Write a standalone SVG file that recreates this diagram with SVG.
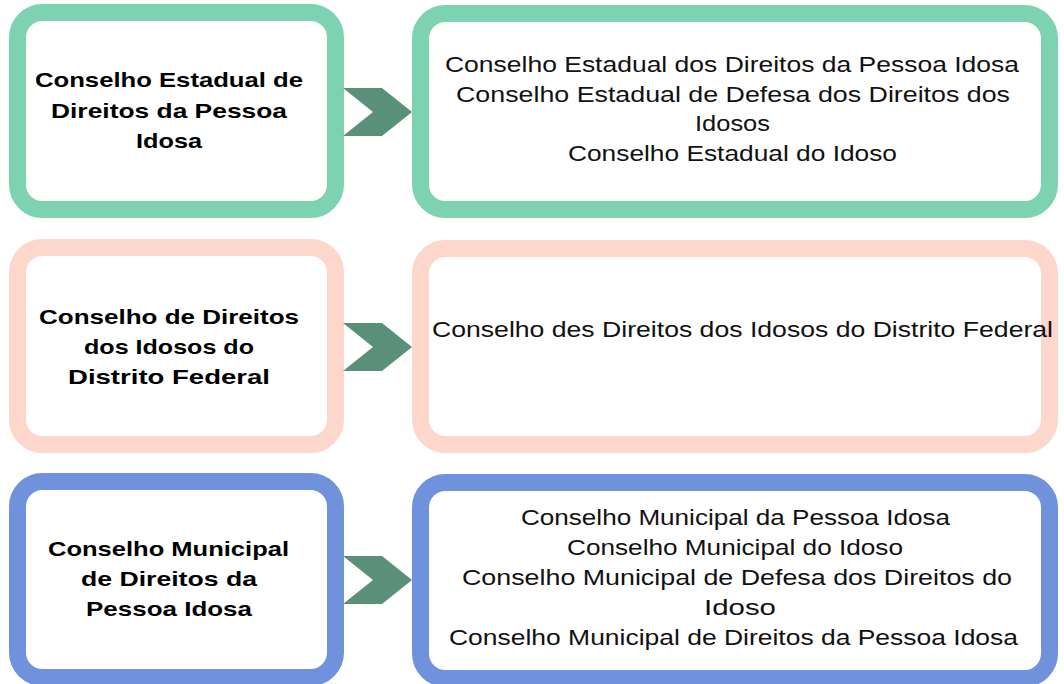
<svg xmlns="http://www.w3.org/2000/svg" width="1064" height="684" viewBox="0 0 1064 684">
<style>
.box{fill:#fff;stroke-width:17}
.g{stroke:#7DD3B1}
.p{stroke:#FDD6CC}
.b{stroke:#7091DC}
.t{font-family:"Liberation Sans",Arial,sans-serif;font-size:21px;font-weight:bold;fill:#000}
.r{font-family:"Liberation Sans",Arial,sans-serif;font-size:21.5px;fill:#111}
.chev{fill:#5A8F7A}
</style>
<rect width="1064" height="684" fill="#fff"/>
<g id="n1">
<rect class="box g" x="17.5" y="12.5" width="318" height="197" rx="25"/>
<text class="t" x="35" y="87" textLength="268" lengthAdjust="spacingAndGlyphs">Conselho Estadual de</text>
<text class="t" x="51" y="118" textLength="236" lengthAdjust="spacingAndGlyphs">Direitos da Pessoa</text>
<text class="t" x="136" y="148" textLength="66" lengthAdjust="spacingAndGlyphs">Idosa</text>
</g>
<g id="n2">
<rect class="box g" x="420.5" y="13.5" width="629" height="196" rx="25"/>
<text class="r" x="445" y="72" textLength="574" lengthAdjust="spacingAndGlyphs">Conselho Estadual dos Direitos da Pessoa Idosa</text>
<text class="r" x="456" y="102" textLength="554" lengthAdjust="spacingAndGlyphs">Conselho Estadual de Defesa dos Direitos dos</text>
<text class="r" x="695" y="131" textLength="75" lengthAdjust="spacingAndGlyphs">Idosos</text>
<text class="r" x="568" y="161" textLength="329" lengthAdjust="spacingAndGlyphs">Conselho Estadual do Idoso</text>
</g>
<g id="n3">
<rect class="box p" x="17.5" y="247.5" width="318" height="197" rx="25"/>
<text class="t" x="39" y="324" textLength="260" lengthAdjust="spacingAndGlyphs">Conselho de Direitos</text>
<text class="t" x="84" y="354" textLength="170" lengthAdjust="spacingAndGlyphs">dos Idosos do</text>
<text class="t" x="68" y="384" textLength="202" lengthAdjust="spacingAndGlyphs">Distrito Federal</text>
</g>
<g id="n4">
<rect class="box p" x="420.5" y="248.5" width="629" height="196" rx="25"/>
<text class="r" x="432" y="337" textLength="621" lengthAdjust="spacingAndGlyphs">Conselho des Direitos dos Idosos do Distrito Federal</text>
</g>
<g id="n5">
<rect class="box b" x="17.5" y="481.5" width="318" height="196" rx="25"/>
<text class="t" x="48" y="556" textLength="241" lengthAdjust="spacingAndGlyphs">Conselho Municipal</text>
<text class="t" x="81" y="586" textLength="176" lengthAdjust="spacingAndGlyphs">de Direitos da</text>
<text class="t" x="86" y="616" textLength="166" lengthAdjust="spacingAndGlyphs">Pessoa Idosa</text>
</g>
<g id="n6">
<rect class="box b" x="420.5" y="482.5" width="629" height="196" rx="25"/>
<text class="r" x="521" y="525" textLength="429" lengthAdjust="spacingAndGlyphs">Conselho Municipal da Pessoa Idosa</text>
<text class="r" x="567" y="555" textLength="336" lengthAdjust="spacingAndGlyphs">Conselho Municipal do Idoso</text>
<text class="r" x="462" y="585" textLength="550" lengthAdjust="spacingAndGlyphs">Conselho Municipal de Defesa dos Direitos do</text>
<text class="r" x="704" y="615" textLength="72" lengthAdjust="spacingAndGlyphs">Idoso</text>
<text class="r" x="449" y="645" textLength="569" lengthAdjust="spacingAndGlyphs">Conselho Municipal de Direitos da Pessoa Idosa</text>
</g>
<g id="connectors">
<polygon class="chev" points="343,88 382,88 412,112 382,136 343,136 373,112"/>
<polygon class="chev" points="343,323 382,323 412,347 382,371 343,371 373,347"/>
<polygon class="chev" points="343,556 382,556 412,580 382,604 343,604 373,580"/>
</g>
</svg>
